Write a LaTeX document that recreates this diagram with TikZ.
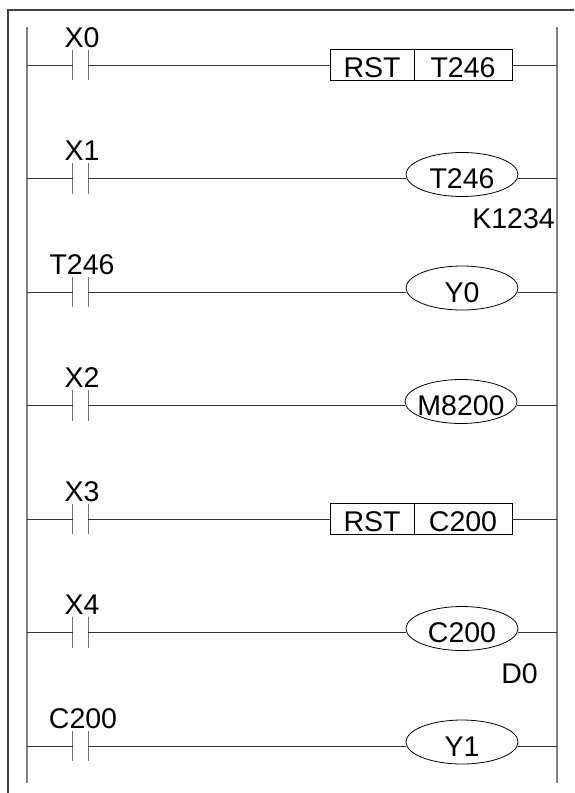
\documentclass[tikz,border=0pt]{standalone}
\usepackage{fontspec}
\setmainfont{Liberation Sans}
\usetikzlibrary{shapes.geometric}
\begin{document}
\begin{tikzpicture}[x=1pt,y=-1pt,
  frameline/.style={draw=black!75, line width=1.2pt},
  rail/.style={draw=black!50, line width=1.6pt},
  wire/.style={draw=black!80, line width=1pt},
  contact/.style={minimum width=15pt, minimum height=30pt, inner sep=0pt},
  cbar/.style={draw=black!55, line width=1.3pt},
  lbl/.style={font=\fontsize{28.5}{31}\selectfont, inner sep=0pt, anchor=base},
  coil/.style={ellipse, draw=black, line width=0.8pt, minimum width=112pt, minimum height=44pt,
    inner sep=0pt, font=\fontsize{28.5}{31}\selectfont, text height=28.4pt, text depth=0pt},
  boxl/.style={rectangle, draw=black, line width=0.9pt, minimum width=84pt, minimum height=31pt,
    inner sep=0pt, font=\fontsize{28.5}{31}\selectfont, text height=24.4pt, text depth=0pt},
  boxr/.style={boxl, minimum width=98pt}
]
\useasboundingbox (0,0) rectangle (574,793);
% frame
\coordinate (FTL) at (8,10);
\coordinate (FTR) at (574,10);
\coordinate (FBL) at (8,793);
\draw[frameline] (FBL) -- (FTL) -- (FTR);
% rails
\coordinate (LT) at (27,27);
\coordinate (LB) at (27,783);
\coordinate (RT) at (557,27);
\coordinate (RB) at (557,783);
\draw[rail] (LT) -- (LB);
\draw[rail] (RT) -- (RB);

% contacts
\node[contact] (c1) at (80.5,65) {};
\node[contact] (c2) at (80.5,178.5) {};
\node[contact] (c3) at (80.5,292) {};
\node[contact] (c4) at (80.5,405.5) {};
\node[contact] (c5) at (80.5,519) {};
\node[contact] (c6) at (80.5,632.5) {};
\node[contact] (c7) at (80.5,746) {};
\foreach \c in {c1,c2,c3,c4,c5,c6,c7}{
  \draw[cbar] (\c.north west) -- (\c.south west) (\c.north east) -- (\c.south east);
  \draw[wire] (\c.west -| LT) -- (\c.west);
}
% contact labels
\node[lbl] (l1) at (82,47) {X0};
\node[lbl] (l2) at (82,160.5) {X1};
\node[lbl] (l3) at (82,274) {T246};
\node[lbl] (l4) at (82,387.5) {X2};
\node[lbl] (l5) at (82,501) {X3};
\node[lbl] (l6) at (82,614.5) {X4};
\node[lbl] (l7) at (83,728) {C200};

% rung 1: RST T246
\node[boxl] (r1a) at (372,65) {RST};
\node[boxr] (r1b) at (463,65) {T246};
\draw[wire] (c1.east) -- (c1.east -| r1a.west);
\draw[wire] (r1b.east) -- (r1b.east -| RT);

% rung 2: coil T246
\node[coil] (k2) at (462,174.5) {\makebox[0pt]{T246}};
\draw[wire] (c2.east) -- (c2.east -| k2.west);
\draw[wire] (c2.east -| k2.east) -- (c2.east -| RT);
\node[lbl, anchor=base east] (p2) at (555,228) {K1234};

% rung 3: coil Y0
\node[coil] (k3) at (462,288) {\makebox[0pt]{Y0}};
\draw[wire] (c3.east) -- (c3.east -| k3.west);
\draw[wire] (c3.east -| k3.east) -- (c3.east -| RT);

% rung 4: coil M8200
\node[coil] (k4) at (461,401.5) {\makebox[0pt]{M8200}};
\draw[wire] (c4.east) -- (c4.east -| k4.west);
\draw[wire] (c4.east -| k4.east) -- (c4.east -| RT);

% rung 5: RST C200
\node[boxl] (r5a) at (372,519) {RST};
\node[boxr] (r5b) at (463,519) {C200};
\draw[wire] (c5.east) -- (c5.east -| r5a.west);
\draw[wire] (r5b.east) -- (r5b.east -| RT);

% rung 6: coil C200
\node[coil] (k6) at (462,628.5) {\makebox[0pt]{C200}};
\draw[wire] (c6.east) -- (c6.east -| k6.west);
\draw[wire] (c6.east -| k6.east) -- (c6.east -| RT);
\node[lbl, anchor=base east] (p6) at (538,683) {D0};

% rung 7: coil Y1
\node[coil] (k7) at (462,742) {\makebox[0pt]{Y1}};
\draw[wire] (c7.east) -- (c7.east -| k7.west);
\draw[wire] (c7.east -| k7.east) -- (c7.east -| RT);
\end{tikzpicture}
\end{document}
